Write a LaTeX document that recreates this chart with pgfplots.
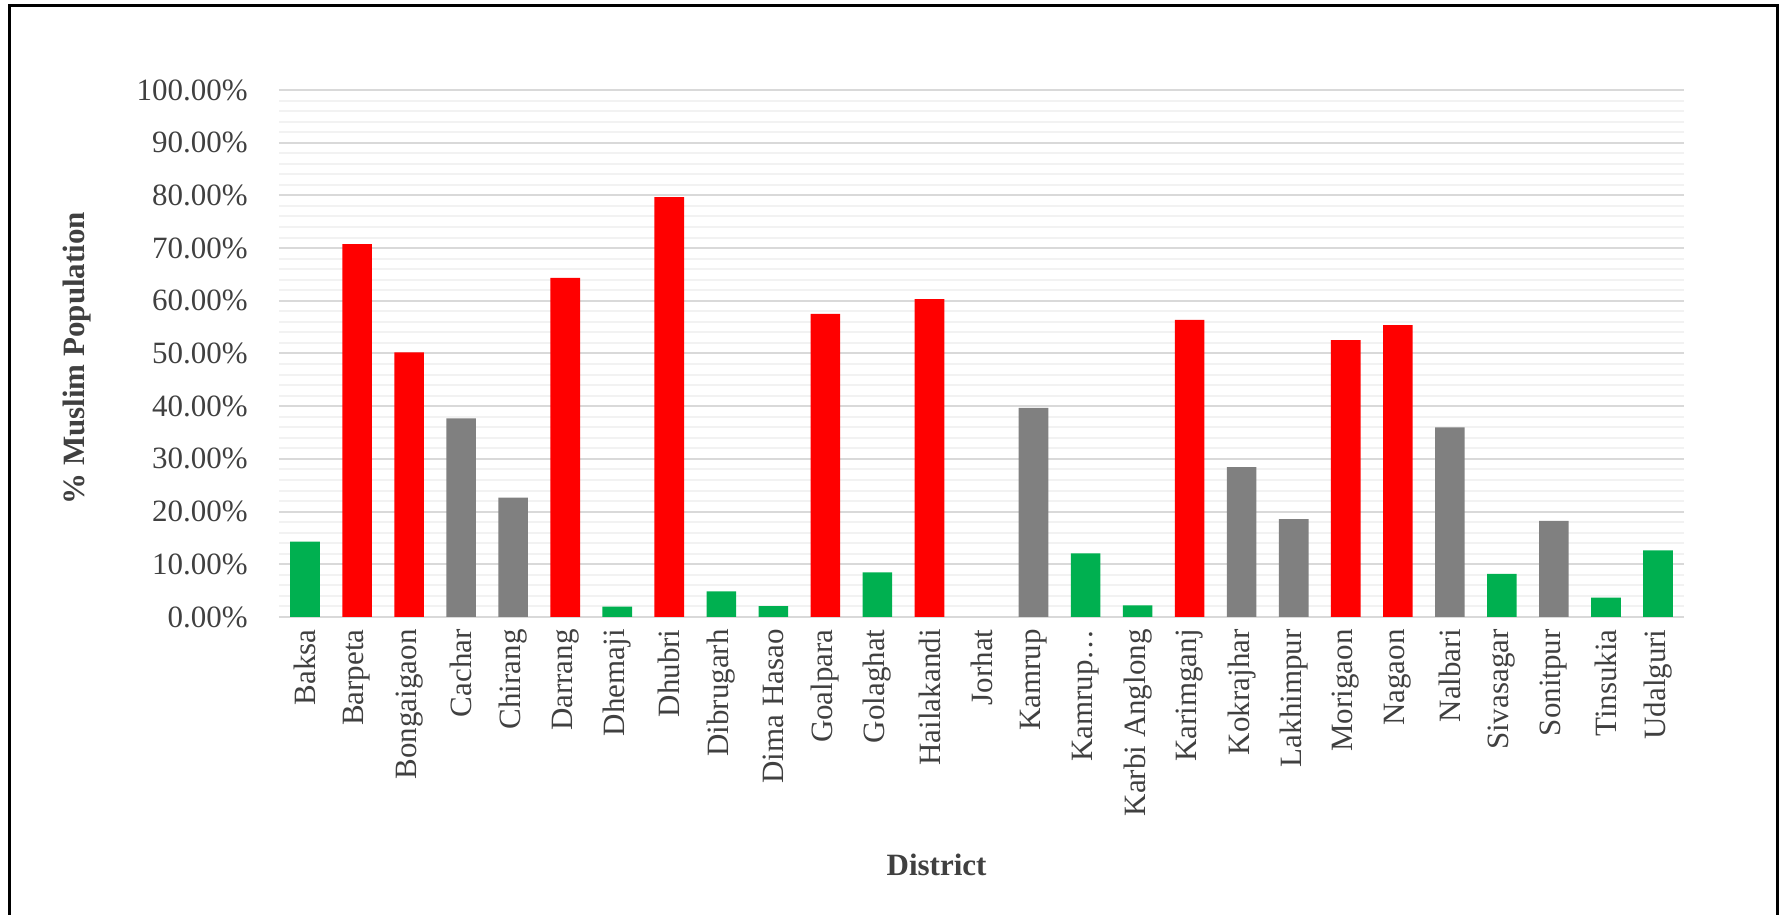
\documentclass[border=0pt]{standalone}
\usepackage{fontspec}
\setmainfont{Liberation Serif}
\usepackage{pgfplots}
\usepackage{pgfplotstable}
\pgfplotsset{compat=1.18}
\definecolor{barred}{HTML}{FF0000}
\definecolor{bargreen}{HTML}{00B050}
\definecolor{bargray}{HTML}{808080}
\definecolor{txt}{HTML}{404040}
\definecolor{majgrid}{HTML}{D9D9D9}
\definecolor{mingrid}{HTML}{F2F2F2}

% x index: 0 Baksa ... 26 Udalguri (13 Jorhat has no bar)
\pgfplotstableread{
x y
1 70.74
2 50.22
5 64.34
7 79.67
10 57.52
12 60.31
17 56.36
20 52.56
21 55.36
}\redtable
\pgfplotstableread{
x y
3 37.71
4 22.66
14 39.66
18 28.44
19 18.57
22 35.96
24 18.22
}\graytable
\pgfplotstableread{
x y
0 14.29
6 1.96
8 4.86
9 2.04
11 8.46
15 12.05
16 2.22
23 8.19
25 3.67
26 12.66
}\greentable

\begin{document}
\begin{tikzpicture}
\useasboundingbox (0,0) rectangle (892pt,457.5pt);
\draw[line width=1.5pt] (4.5pt,-2pt) -- (4.5pt,454.5pt) -- (888.5pt,454.5pt) -- (888.5pt,-2pt);
\begin{axis}[
  at={(139.5pt,149pt)}, anchor=south west,
  scale only axis, width=702.5pt, height=263.5pt,
  xmin=-0.5, xmax=26.5, ymin=0, ymax=100,
  axis line style={draw=none},
  major tick length=0pt, minor tick length=0pt,
  ytick={0,10,...,100},
  yticklabels={0.00\%,10.00\%,20.00\%,30.00\%,40.00\%,50.00\%,60.00\%,70.00\%,80.00\%,90.00\%,100.00\%},
  minor y tick num=4,
  ymajorgrids, yminorgrids,
  major grid style={draw=majgrid, line width=1pt},
  minor grid style={draw=mingrid, line width=1pt},
  xtick={0,...,26},
  xticklabels={Baksa,Barpeta,Bongaigaon,Cachar,Chirang,Darrang,Dhemaji,Dhubri,Dibrugarh,Dima Hasao,Goalpara,Golaghat,Hailakandi,Jorhat,Kamrup,Kamrup…,Karbi Anglong,Karimganj,Kokrajhar,Lakhimpur,Morigaon,Nagaon,Nalbari,Sivasagar,Sonitpur,Tinsukia,Udalguri},
  every tick label/.append style={font=\fontsize{15.5}{18}\selectfont, text=txt, inner sep=0pt},
  xticklabel shift=6pt, yticklabel shift=15.5pt,
  x tick label style={rotate=90, anchor=east},
  y tick label style={anchor=east},
  xlabel={District}, ylabel={\% Muslim Population},
  every axis x label/.style={at={(axis description cs:0.468,-0.4706)}, anchor=center, font=\bfseries\fontsize{15.5}{18}\selectfont, text=txt},
  every axis y label/.style={at={(axis description cs:-0.1438,0.491)}, rotate=90, anchor=center, font=\bfseries\fontsize{15.5}{18}\selectfont, text=txt},
]
\addplot[ybar, bar shift=0pt, bar width=14.8pt, fill=barred, draw=none] table {\redtable};
\addplot[ybar, bar shift=0pt, bar width=14.8pt, fill=bargray, draw=none] table {\graytable};
\addplot[ybar, bar shift=0pt, bar width=14.8pt, fill=bargreen, draw=none] table {\greentable};
\end{axis}
\end{tikzpicture}
\end{document}
